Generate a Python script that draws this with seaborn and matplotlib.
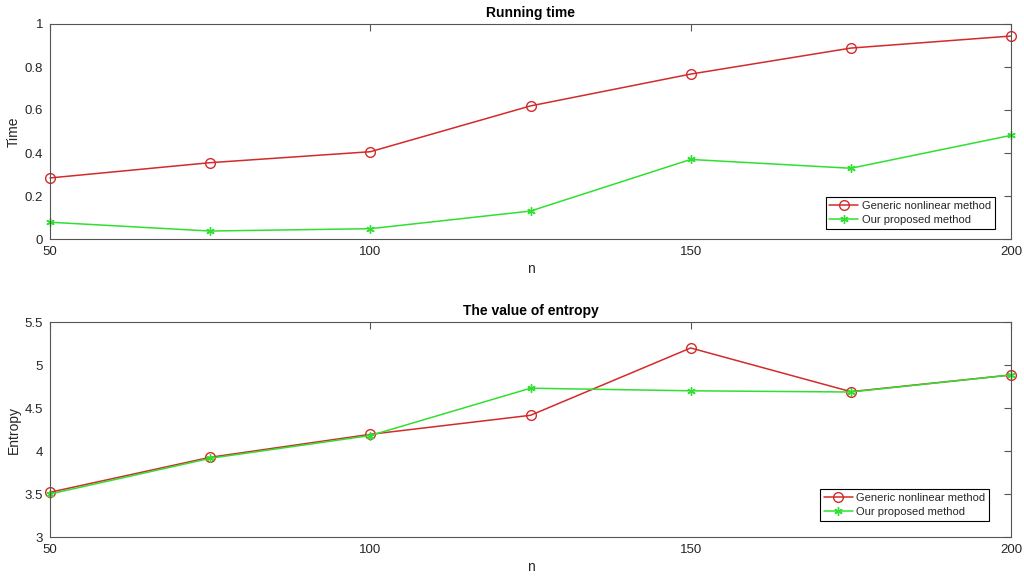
import matplotlib
matplotlib.use('Agg')
import matplotlib.pyplot as plt
import seaborn as sns

n = [50, 75, 100, 125, 150, 175, 200]
time_generic = [0.284, 0.355, 0.406, 0.619, 0.767, 0.888, 0.944]
time_proposed = [0.078, 0.037, 0.048, 0.130, 0.370, 0.329, 0.482]
entropy_generic = [3.52, 3.927, 4.194, 4.415, 5.198, 4.69, 4.884]
entropy_proposed = [3.50, 3.915, 4.18, 4.73, 4.70, 4.686, 4.884]

sns.set_style('white')
plt.rcParams['font.family'] = ['Liberation Sans', 'DejaVu Sans']

red = '#d42a2a'
green = '#30e030'
grey = '#262626'

fig = plt.figure(figsize=(10.24, 5.77), dpi=100)
fig.patch.set_facecolor('white')
ax1 = fig.add_axes([50/1024, 1 - 239/577, 961/1024, 215/577])
ax2 = fig.add_axes([50/1024, 1 - 537/577, 961/1024, 215/577])

panels = [
    (ax1, time_generic, time_proposed, 'Running time', 'Time', (0, 1),
     [0, 0.2, 0.4, 0.6, 0.8, 1], ['0', '0.2', '0.4', '0.6', '0.8', '1'], (0.983, 0.047)),
    (ax2, entropy_generic, entropy_proposed, 'The value of entropy', 'Entropy', (3, 5.5),
     [3, 3.5, 4, 4.5, 5, 5.5], ['3', '3.5', '4', '4.5', '5', '5.5'], (0.977, 0.074)),
]

for ax, yg, yp, title, ylab, ylim, yt, ytl, anchor in panels:
    sns.lineplot(x=n, y=yg, ax=ax, color=red, linewidth=1.1, marker='o', markersize=7,
                 markerfacecolor='none', markeredgecolor=red, markeredgewidth=1.0,
                 label='Generic nonlinear method', clip_on=False)
    sns.lineplot(x=n, y=yp, ax=ax, color=green, linewidth=1.1, marker=(6, 2, 0), markersize=6,
                 markeredgecolor=green, markeredgewidth=1.0,
                 label='Our proposed method', clip_on=False)
    ax.set_xlim(50, 200)
    ax.set_ylim(*ylim)
    ax.set_xticks([50, 100, 150, 200])
    ax.set_xticklabels(['50', '100', '150', '200'])
    ax.set_yticks(yt)
    ax.set_yticklabels(ytl)
    ax.tick_params(direction='in', top=True, right=True, length=5, width=0.8,
                   colors='#555555', labelcolor=grey, labelsize=9.5, pad=5)
    for s in ax.spines.values():
        s.set_color('#555555')
        s.set_linewidth(0.8)
    ax.set_title(title, fontsize=10, fontweight='bold', color='black', pad=5)
    ax.set_ylabel(ylab, fontsize=10, color=grey, labelpad=3)
    ax.set_xlabel('n', fontsize=10, color=grey, labelpad=3)
    leg = ax.legend(loc='lower right', bbox_to_anchor=anchor, fontsize=8, frameon=True,
                    fancybox=False, framealpha=1, edgecolor='black', borderpad=0.35,
                    handlelength=2.6, handletextpad=0.3, labelspacing=0.35, borderaxespad=0)
    leg.get_frame().set_linewidth(0.8)

fig.savefig('out.png', dpi=100, facecolor='white')
